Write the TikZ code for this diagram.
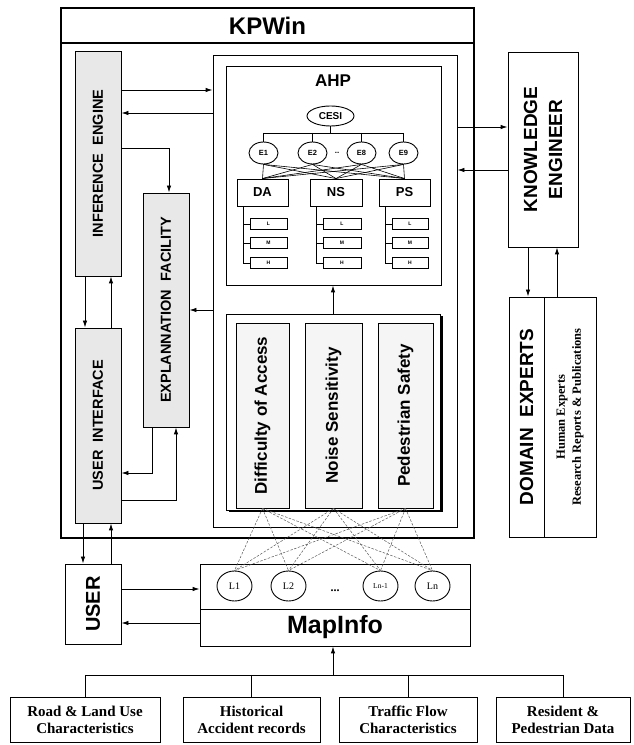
\documentclass[tikz,border=0pt]{standalone}
\usepackage{fontspec}
\setmainfont{Liberation Serif}
\setsansfont{Liberation Sans}
\usetikzlibrary{arrows.meta, positioning, shapes.geometric, shadows}
\newcommand{\fsz}[2]{\fontsize{#1}{#2}\selectfont}

\begin{document}
\begin{tikzpicture}[
    x=1pt, y=1pt,
    line width=0.9pt,
    every node/.style={inner sep=0pt},
    box/.style={rectangle, draw, fill=white},
    grain/.style={rectangle, draw, fill=black!9},
    vtext/.style={rotate=90, font=\sffamily\bfseries\fsz{14.5}{17}},
    crittext/.style={rotate=90, font=\sffamily\bfseries\fsz{17}{20}},
    oval/.style={ellipse, draw, fill=white},
    leaf/.style={rectangle, draw, line width=0.6pt, minimum height=11, font=\sffamily\bfseries\fsz{5}{6}},
    source/.style={rectangle, draw, minimum height=45, align=center, font=\bfseries\fsz{15}{17}},
    arrow/.style={-{Latex[length=7pt, width=4.5pt]}},
    link/.style={line width=0.6pt},
    dashlink/.style={dashed, dash pattern=on 2.5pt off 1.5pt, line width=0.5pt, black!65}
]
\useasboundingbox (0,0) rectangle (633,745);

% KPWin frame
\node[box, line width=1.2pt, minimum width=413, minimum height=530] (kpwin) at (267.5,472) {};
\node[box, line width=1.2pt, minimum width=413, minimum height=35, font=\sffamily\bfseries\fsz{24}{28}] (title) at (267.5,719.5) {KPWin};

% Left modules
\node[grain, minimum width=46, minimum height=225] (ie) at (98,581.5) {};
\node[vtext] (ie-t) at (ie) {INFERENCE\ \ ENGINE};
\node[grain, minimum width=46, minimum height=195] (ui) at (98,319.5) {};
\node[vtext] (ui-t) at (ui) {USER\ \ INTERFACE};
\node[grain, minimum width=46, minimum height=234] (ef) at (166,435) {};
\node[vtext] (ef-t) at (ef) {EXPLANNATION\ \ FACILITY};

% Knowledge base
\node[box, minimum width=244, minimum height=472] (core) at (335,454) {};
\node[box, minimum width=215, minimum height=219] (ahp) at (333.5,569.5) {};
\node[font=\sffamily\bfseries\fsz{17}{20}] (ahp-t) at (333,664) {AHP};

% AHP hierarchy
\node[oval, minimum width=47, minimum height=20, font=\sffamily\bfseries\fsz{10}{12}] (cesi) at (330.5,629) {CESI};
\node[oval, minimum width=29, minimum height=22, font=\sffamily\bfseries\fsz{7.5}{9}] (e1) at (263.5,592) {E1};
\node[oval, minimum width=29, minimum height=22, font=\sffamily\bfseries\fsz{7.5}{9}] (e2) at (312.5,592) {E2};
\node[oval, minimum width=29, minimum height=22, font=\sffamily\bfseries\fsz{7.5}{9}] (e8) at (361.5,592) {E8};
\node[oval, minimum width=29, minimum height=22, font=\sffamily\bfseries\fsz{7.5}{9}] (e9) at (403.5,592) {E9};
\node[font=\sffamily\bfseries\fsz{8}{9}] (edots) at (337,592) {..};

\node[box, minimum width=51, minimum height=27, font=\sffamily\bfseries\fsz{13}{15}] (ada) at (262.5,552.5) {DA};
\node[box, minimum width=52, minimum height=27, font=\sffamily\bfseries\fsz{13}{15}] (ans) at (336,552.5) {NS};
\node[box, minimum width=51, minimum height=27, font=\sffamily\bfseries\fsz{13}{15}] (aps) at (404.5,552.5) {PS};

\foreach \k/\x/\w in {ada/268.5/37, ans/342/38, aps/410/36} {
    \node[leaf, minimum width=\w] (\k-l) at (\x,521) {L};
    \node[leaf, minimum width=\w] (\k-m) at (\x,502) {M};
    \node[leaf, minimum width=\w] (\k-h) at (\x,482) {H};
    \draw[link] ([xshift=-6]\k-l.west |- \k.south) |- (\k-h.west);
    \draw[link] ([xshift=-6]\k-l.west) -- (\k-l.west);
    \draw[link] ([xshift=-6]\k-m.west) -- (\k-m.west);
}

\coordinate (bar) at (330.5,612);
\draw[link] (cesi.south) -- (bar);
\draw[link] (e1.north |- bar) -- (e9.north |- bar);
\foreach \e in {e1,e2,e8,e9} {
    \draw[link] (\e.north |- bar) -- (\e.north);
    \foreach \k in {ada,ans,aps}
        \draw[link] (\e.south) -- (\k.north);
}

% Criteria layer
\node[box, minimum width=214, minimum height=196, drop shadow={shadow xshift=2.5pt, shadow yshift=-2.5pt, opacity=1, fill=black}] (crit) at (333,333) {};
\node[box, fill=black!4, minimum width=53, minimum height=185] (da) at (262.5,329.5) {};
\node[crittext] (da-t) at (da) {Difficulty of Access};
\node[box, fill=black!4, minimum width=57, minimum height=185] (ns) at (333.5,329.5) {};
\node[crittext] (ns-t) at (ns) {Noise Sensitivity};
\node[box, fill=black!4, minimum width=55, minimum height=185] (ps) at (405.5,329.5) {};
\node[crittext] (ps-t) at (ps) {Pedestrian Safety};

% Knowledge engineer and experts
\node[box, minimum width=70, minimum height=195] (ke) at (543,595.5) {};
\node[rotate=90, align=center, font=\sffamily\bfseries\fsz{19}{25}] (ke-t) at (ke) {KNOWLEDGE\\ENGINEER};
\node[box, minimum width=35, minimum height=240] (dename) at (526.5,328) {};
\node[rotate=90, font=\sffamily\bfseries\fsz{19}{22}] (dename-t) at (dename) {DOMAIN\ \ EXPERTS};
\node[box, minimum width=52, minimum height=240] (desrc) at (570,328) {};
\node[rotate=90, align=center, font=\bfseries\fsz{12.5}{16}] (desrc-t) at (desrc) {Human Experts\\Research Reports \& Publications};

% User and MapInfo
\node[box, minimum width=56, minimum height=80] (user) at (93,141) {};
\node[rotate=90, font=\sffamily\bfseries\fsz{20}{24}] (user-t) at (user) {USER};
\node[box, minimum width=270, minimum height=45] (maplayers) at (335,158.5) {};
\node[box, minimum width=270, minimum height=37, font=\sffamily\bfseries\fsz{25}{28}] (mapname) at (335,117.5) {MapInfo};
\node[oval, minimum width=35, minimum height=30, font=\fsz{10}{12}] (l1) at (234.5,159) {L1};
\node[oval, minimum width=35, minimum height=30, font=\fsz{10}{12}] (l2) at (288.5,159) {L2};
\node[oval, minimum width=35, minimum height=30, font=\fsz{7.5}{9}] (l3) at (380.5,159) {Ln-1};
\node[oval, minimum width=35, minimum height=30, font=\fsz{10}{12}] (l4) at (432.5,159) {Ln};
\node[font=\bfseries\fsz{12}{14}] (ldots) at (335,154) {...};

% Data sources
\node[source, minimum width=150] (src1) at (85,25.5) {Road \& Land Use\\Characteristics};
\node[source, minimum width=137] (src2) at (251.5,25.5) {Historical\\Accident records};
\node[source, minimum width=138] (src3) at (408,25.5) {Traffic Flow\\Characteristics};
\node[source, minimum width=134] (src4) at (563,25.5) {Resident \&\\Pedestrian Data};

% Arrows inside KPWin
\draw[arrow] ([yshift=73.5]ie.east) coordinate (a1) -- (a1 -| core.west);
\draw[arrow] ([yshift=178]core.west) coordinate (a2) -- (a2 -| ie.east);
\draw[arrow] ([yshift=15.5]ie.east) -| ([xshift=3]ef.north);
\draw[arrow] ([xshift=-13]ie.south) -- ([xshift=-13]ui.north);
\draw[arrow] ([xshift=13]ui.north) -- ([xshift=13]ie.south);
\draw[arrow] (ef.east -| core.west) -- (ef.east);
\draw[arrow] ([xshift=-14]ef.south) |- ([yshift=-47.5]ui.east);
\draw[arrow] ([yshift=-74.5]ui.east) -| ([xshift=10]ef.south);
\draw[arrow] (crit.north) -- (crit.north |- ahp.south);

% Arrows to the outside
\path ([xshift=-15]ui.south) coordinate (u1);
\draw[arrow] (u1) -- (u1 |- user.north);
\path ([xshift=13]ui.south) coordinate (u2);
\draw[arrow] (u2 |- user.north) -- (u2);
\path ([yshift=15]user.east) coordinate (m1);
\draw[arrow] (m1) -- (m1 -| maplayers.west);
\path ([yshift=-19]user.east) coordinate (m2);
\draw[arrow] (m2 -| mapname.west) -- (m2);
\path ([yshift=22.5]ke.west) coordinate (k1);
\draw[arrow] (k1 -| core.east) -- (k1);
\path ([yshift=-20.5]ke.west) coordinate (k2);
\draw[arrow] (k2) -- (k2 -| core.east);
\path ([xshift=-15]ke.south) coordinate (k3);
\draw[arrow] (k3) -- (k3 |- dename.north);
\path ([xshift=14]ke.south) coordinate (k4);
\draw[arrow] (k4 |- desrc.north) -- (k4);

% Criteria to layers
\foreach \c in {da,ns,ps}
    \foreach \l in {l1,l2,l3,l4}
        \draw[dashlink] (\c.south) -- (\l.north);

% Sources to MapInfo
\coordinate (bus) at (333,70);
\draw[arrow] (bus) -- (bus |- mapname.south);
\draw (src1.north |- bus) -- (src4.north |- bus);
\foreach \s in {src1,src2,src3,src4}
    \draw (\s.north |- bus) -- (\s.north);

\end{tikzpicture}
\end{document}
